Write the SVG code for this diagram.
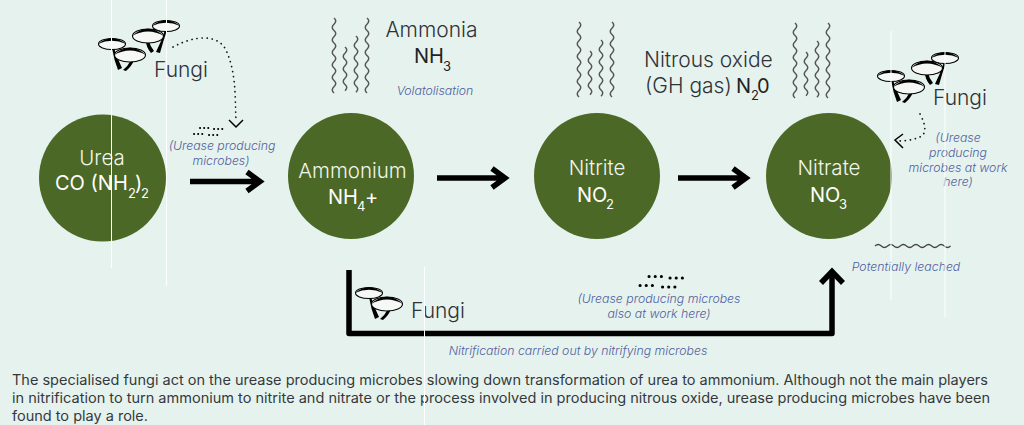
<svg xmlns="http://www.w3.org/2000/svg" xmlns:xlink="http://www.w3.org/1999/xlink" width="1024" height="425" viewBox="0 0 1024 425">
<style>
text{font-family:"Inter","Liberation Sans",sans-serif;font-weight:300}
.h{font-size:21px;fill:#2f3338}
.b{font-size:20px;fill:#1f2226;font-weight:400}
.bs{font-size:13px;fill:#1f2226;font-weight:400}
.w{font-size:20.500px;fill:#f2f5ec}
.wb{font-size:20px;fill:#fff;font-weight:400}
.ws{font-size:13px;fill:#fff;font-weight:400}
.n{font-size:12.300px;font-style:italic;fill:#4f5f9e;text-anchor:middle}
.body{font-size:14px;fill:#34383c;font-weight:400}
.node{fill:#4b6826}
.arrow{fill:none;stroke:#000;stroke-width:5.500}
.wave{fill:none;stroke:#555;stroke-width:1.500}
.dots{fill:none;stroke:#111;stroke-width:1.700;stroke-dasharray:.1 5;stroke-linecap:round}
.cap{fill:#f6f8f6;stroke:#000;stroke-width:1.100}
.crack{fill:none;stroke:#fff;stroke-width:1}
</style>
<defs>
<g id="cs"><ellipse class="cap" rx="13.500" ry="5.500"/><path d="M-14 0Q0-11.500 14 0Q0-6.500-14 0Z"/></g>
<g id="cb"><ellipse class="cap" rx="15.500" ry="7"/><path d="M-16 0Q0-14.500 16 0Q0-9-16 0Z"/></g>
<g id="pair">
<path d="M112 48L114 48Q117 58 122 68L118 70Q114 60 112 48Z"/>
<use xlink:href="#cs" href="#cs" x="112" y="44"/>
<path d="M131 60L134 60Q132 66 126 71L123 70Q128 66 131 60Z"/>
<use xlink:href="#cb" href="#cb" x="130" y="55"/>
</g>
<g id="four">
<use xlink:href="#pair" href="#pair"/>
<path d="M165 30L167 30Q163 42 160 53L156 52Q161 42 165 30Z"/>
<use xlink:href="#cs" href="#cs" x="166" y="26"/>
<path d="M146 41L149 41Q150 46 154 51L151 53Q146 47 146 41Z"/>
<use xlink:href="#cb" href="#cb" x="148" y="36"/>
</g>
<g id="waves" class="wave">
<path d="M0 0q3.500 3.100 0 6.250t0 6.250t0 6.250t0 6.250t0 6.250t0 6.250t0 6.250t0 6.250t0 6.250t0 6.250t0 6.250t0 6.250"/>
<path d="M11 29q3.500 3.100 0 6.250t0 6.250t0 6.250t0 6.250t0 6.250t0 6.250t0 6.250"/>
<path d="M22 18q3.500 3.100 0 6.250t0 6.250t0 6.250t0 6.250t0 6.250t0 6.250t0 6.250t0 6.250t0 6.250"/>
<path d="M33 0q3.500 3.100 0 6.250t0 6.250t0 6.250t0 6.250t0 6.250t0 6.250t0 6.250t0 6.250t0 6.250t0 6.250t0 6.250t0 6.250"/>
</g>
<g id="microbes" fill="none" stroke="#000" stroke-width="2" stroke-linecap="round" stroke-dasharray=".1 4"><path d="M8 1h9M2 7h9M22 2h9M17 8h9"/></g>
</defs>
<rect width="1024" height="425" fill="#e6f2ee"/>
<g id="connectors">
<path class="arrow" d="M190 181.500H259M247 172L260 181.500L247 191"/>
<path class="arrow" d="M437 178H505M492 168.500L505 178L492 187.500"/>
<path class="arrow" d="M678 178H746M733 168.500L746 178L733 187.500"/>
<path class="arrow" stroke-linejoin="round" d="M349 270V333.500H832V271"/>
<path class="arrow" d="M821 283L832 271.500L843 283"/>
<path class="dots" d="M173 47C195 35 218 34 226 50C236 72 235 95 236 122"/>
<path d="M229 120L236 127L243 120" fill="none" stroke="#000" stroke-width="1.500"/>
<path class="dots" d="M920 114C926 125 926 132 922 136C914 140 905 141 897 141"/>
<path d="M903 134L895 140L903 148" fill="none" stroke="#000" stroke-width="1.500"/>
<path d="M875 246q3.150-3 6.300 0t6.300 0t6.300 0t6.300 0t6.300 0t6.300 0t6.300 0t6.300 0t6.300 0t6.300 0t6.300 0t6.300 0" fill="none" stroke="#444" stroke-width="1.200"/>
</g>
<g id="node-urea"><circle class="node" cx="102.500" cy="178" r="63.500"/>
<text class="w" x="102" y="165" text-anchor="middle">Urea</text>
<text class="wb" x="55" y="190">CO (NH</text><text class="ws" x="128" y="198">2</text><text class="wb" x="135" y="190">)</text><text class="ws" x="141" y="198">2</text></g>
<g id="node-ammonium"><circle class="node" cx="351" cy="176" r="63"/>
<text class="w" x="352.500" y="178" text-anchor="middle">Ammonium</text>
<text class="wb" x="328" y="204">NH</text><text class="ws" x="357" y="211">4</text><text class="wb" x="365" y="204">+</text></g>
<g id="node-nitrite"><circle class="node" cx="597" cy="176" r="63"/>
<text class="w" x="597" y="175" text-anchor="middle">Nitrite</text>
<text class="wb" x="577" y="202">NO</text><text class="ws" x="606" y="209">2</text></g>
<g id="node-nitrate"><circle class="node" cx="829" cy="176" r="63"/>
<text class="w" x="829" y="175" text-anchor="middle">Nitrate</text>
<text class="wb" x="810" y="202">NO</text><text class="ws" x="839" y="209">3</text></g>
<g id="fungi-1"><use xlink:href="#four" href="#four"/><text class="h" x="154" y="77">Fungi</text></g>
<g id="fungi-2"><use xlink:href="#four" href="#four" x="779" y="32"/><text class="h" x="933" y="105">Fungi</text></g>
<g id="fungi-3"><use xlink:href="#pair" href="#pair" x="257" y="249"/><text class="h" x="411" y="318">Fungi</text></g>
<g id="ammonia"><use xlink:href="#waves" href="#waves" x="334" y="18"/>
<text class="h" x="431.500" y="37" text-anchor="middle">Ammonia</text>
<text class="b" x="414" y="63">NH</text><text class="bs" x="443" y="71">3</text>
<text class="n" x="435" y="95">Volatolisation</text></g>
<g id="nitrous"><use xlink:href="#waves" href="#waves" x="579" y="22"/><use xlink:href="#waves" href="#waves" x="795" y="23"/>
<text class="h" x="644" y="67">Nitrous oxide</text>
<text class="h" x="645" y="93">(GH gas)</text><text class="b" x="736" y="93">N</text><text class="bs" x="751" y="100">2</text><text class="b" x="757" y="93">0</text></g>
<g id="notes">
<use xlink:href="#microbes" href="#microbes" x="192" y="127"/>
<use xlink:href="#microbes" href="#microbes" transform="translate(637 275) scale(1.500)"/>
<text class="n" x="222" y="150">(Urease producing</text><text class="n" x="221" y="165">microbes)</text>
<text class="n" x="958" y="142">(Urease</text><text class="n" x="958" y="157">producing</text><text class="n" x="958" y="172">microbes at work</text><text class="n" x="958" y="186">here)</text>
<text class="n" x="906" y="271">Potentially leached</text>
<text class="n" x="659" y="303">(Urease producing microbes</text><text class="n" x="659" y="318">also at work here)</text>
<text class="n" x="578" y="355">Nitrification carried out by nitrifying microbes</text>
</g>
<g id="caption">
<text class="body" x="12" y="385" textLength="976" lengthAdjust="spacingAndGlyphs">The specialised fungi act on the urease producing microbes slowing down transformation of urea to ammonium. Although not the main players</text>
<text class="body" x="12" y="403" textLength="978" lengthAdjust="spacingAndGlyphs">in nitrification to turn ammonium to nitrite and nitrate or the process involved in producing nitrous oxide, urease producing microbes have been</text>
<text class="body" x="12" y="421" textLength="136" lengthAdjust="spacingAndGlyphs">found to play a role.</text>
</g>
<g class="crack"><path d="M111.500 0V268M166.500 0V286M424.500 267V425M891 31V300M945 52V317"/></g>
</svg>
